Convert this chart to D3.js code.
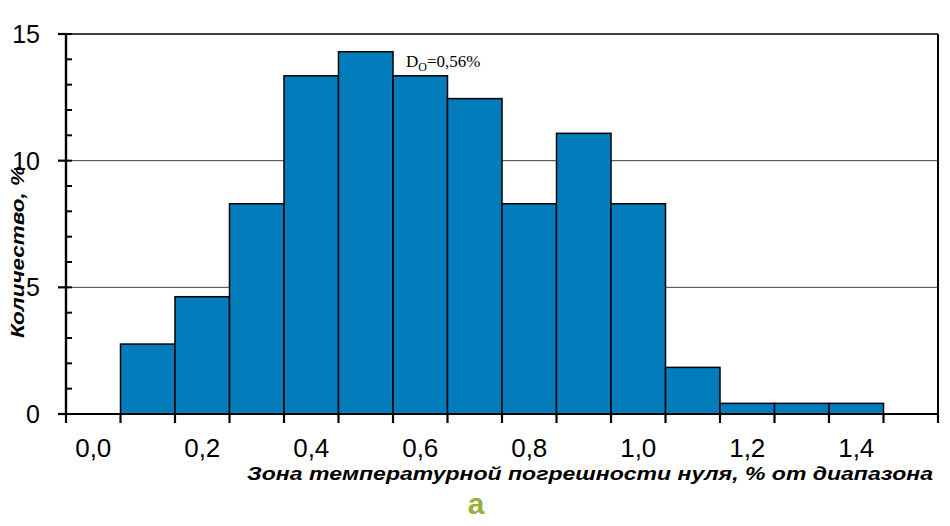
<!DOCTYPE html>
<html><head><meta charset="utf-8">
<script src="https://cdn.jsdelivr.net/npm/d3@7"></script>
<style>html,body{margin:0;padding:0;background:#fff;}</style>
</head><body>
<svg id="c" width="950" height="526"></svg>
<script>
const binCenters = [0.1,0.2,0.3,0.4,0.5,0.6,0.7,0.8,0.9,1.0,1.1,1.2,1.3,1.4];
const counts = [2.76,4.63,8.3,13.35,14.3,13.35,12.45,8.3,11.08,8.3,1.84,0.42,0.42,0.42];
const xTickLabels = [0.0,0.2,0.4,0.6,0.8,1.0,1.2,1.4];
const yTicks = [0,5,10,15];
const binWidth = 0.1;

const svg = d3.select("#c");
const x = d3.scaleLinear().domain([-0.05,1.55]).range([66,938]);
const y = d3.scaleLinear().domain([0,15]).range([414,34]);
const fmt = v => d3.format(".1f")(v).replace(".", ",");

// gridlines
svg.append("g").selectAll("line").data([5,10]).join("line")
  .attr("x1", x(-0.05)).attr("x2", x(1.55))
  .attr("y1", d=>y(d)).attr("y2", d=>y(d))
  .attr("stroke","#444").attr("stroke-width",1);
// top border
svg.append("line").attr("x1",x(-0.05)).attr("x2",x(1.55)).attr("y1",y(15)).attr("y2",y(15))
  .attr("stroke","#000").attr("stroke-width",1.6);
// right border
svg.append("line").attr("x1",x(1.55)).attr("x2",x(1.55)).attr("y1",y(15)).attr("y2",y(0))
  .attr("stroke","#000").attr("stroke-width",2);

// bars
svg.append("g").selectAll("rect").data(binCenters).join("rect")
  .attr("x", d=>x(d-binWidth/2))
  .attr("width", d=>x(d+binWidth/2)-x(d-binWidth/2))
  .attr("y", (d,i)=>y(counts[i]))
  .attr("height", (d,i)=>y(0)-y(counts[i]))
  .attr("fill","#037cbb").attr("stroke","#000").attr("stroke-width",1.5);

// x axis
const xBounds = d3.range(17).map(i => -0.05 + i*binWidth);
const xa = svg.append("g");
xa.append("line").attr("x1",x(-0.05)).attr("x2",x(1.55)).attr("y1",y(0)).attr("y2",y(0))
  .attr("stroke","#000").attr("stroke-width",2.2);
xa.selectAll(".xt").data(xBounds).join("line")
  .attr("x1",d=>x(d)).attr("x2",d=>x(d)).attr("y1",y(0)).attr("y2",y(0)+9)
  .attr("stroke","#000").attr("stroke-width",2.2);
xa.selectAll("text").data(xTickLabels).join("text")
  .attr("x",d=>x(d)).attr("y",457)
  .attr("text-anchor","middle")
  .attr("font-family","Liberation Sans, Arial, sans-serif").attr("font-size",26)
  .text(fmt);

// y axis
const ya = svg.append("g");
ya.append("line").attr("x1",x(-0.05)).attr("x2",x(-0.05)).attr("y1",y(15)).attr("y2",y(0))
  .attr("stroke","#000").attr("stroke-width",2.4);
ya.selectAll(".minor").data(d3.range(0,16)).join("line")
  .attr("x1",x(-0.05)).attr("x2",x(-0.05)+6).attr("y1",d=>y(d)).attr("y2",d=>y(d))
  .attr("stroke","#000").attr("stroke-width",2);
ya.selectAll(".major").data(yTicks).join("line")
  .attr("x1",x(-0.05)-8).attr("x2",x(-0.05)).attr("y1",d=>y(d)).attr("y2",d=>y(d))
  .attr("stroke","#000").attr("stroke-width",2.2);
ya.selectAll("text").data(yTicks).join("text")
  .attr("x",40).attr("y",d=>y(d)+9)
  .attr("text-anchor","end")
  .attr("font-family","Liberation Sans, Arial, sans-serif").attr("font-size",25)
  .text(d=>d);

// axis titles
svg.append("text")
  .attr("transform","translate(24,338) rotate(-90)")
  .attr("font-family","Liberation Sans, Arial, sans-serif").attr("font-size",19)
  .attr("font-style","italic").attr("font-weight","bold")
  .attr("textLength",172).attr("lengthAdjust","spacingAndGlyphs")
  .text("Количество, %");
svg.append("text")
  .attr("x",247).attr("y",480)
  .attr("font-family","Liberation Sans, Arial, sans-serif").attr("font-size",18)
  .attr("font-style","italic").attr("font-weight","bold")
  .attr("textLength",686).attr("lengthAdjust","spacingAndGlyphs")
  .text("Зона температурной погрешности нуля, % от диапазона");

// annotation
const ann = svg.append("text").attr("x",406).attr("y",67)
  .attr("font-family","Liberation Serif, Times New Roman, serif").attr("font-size",17);
ann.append("tspan").text("D");
ann.append("tspan").attr("font-size",12).attr("dy",4).text("O");
ann.append("tspan").attr("dy",-4).text("=0,56%");

// panel label
svg.append("text").attr("x",476).attr("y",514).attr("text-anchor","middle")
  .attr("font-family","Liberation Sans, Arial, sans-serif").attr("font-size",30)
  .attr("font-weight","bold").attr("fill","#9aad40").text("а");
</script>
</body></html>
